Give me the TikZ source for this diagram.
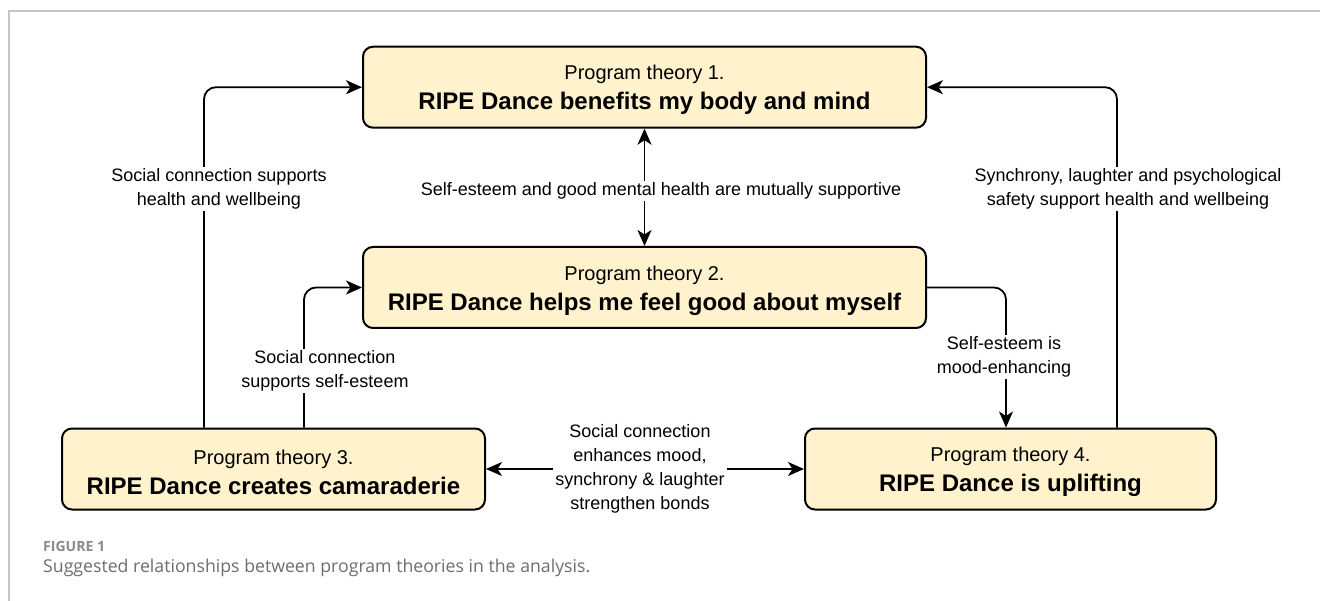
\documentclass[tikz,border=0pt]{standalone}
\usepackage{fontspec}
\setmainfont{Liberation Sans}
\newfontfamily\capfont{Open Sans}
\usetikzlibrary{arrows.meta}
\definecolor{boxfill}{HTML}{FFF2CC}
\definecolor{framegray}{HTML}{C4C4C4}
\definecolor{capgray}{HTML}{8A8A8A}
\definecolor{captext}{HTML}{6E6E6E}
\begin{document}
\begin{tikzpicture}[x=1pt,y=-1pt,
  box/.style={draw=black, line width=2pt, fill=boxfill, rounded corners=10pt,
    minimum height=81pt, inner sep=0pt},
  boxtext/.style={inner sep=0pt, align=center, yshift=-3pt,
    font=\fontsize{20}{30}\selectfont},
  lbl/.style={fill=white, inner sep=2pt, align=center,
    font=\fontsize{18}{24}\selectfont},
  link/.style={line width=1.8pt, rounded corners=12pt,
    -{Stealth[length=16pt,width=14pt,inset=4.5pt]}},
  dlink/.style={line width=1.8pt,
    {Stealth[length=16pt,width=14pt,inset=4.5pt]}-{Stealth[length=16pt,width=14pt,inset=4.5pt]}}]
\useasboundingbox (0,0) rectangle (1320,601);
\fill[white] (0,0) rectangle (1320,601);
% panel frame
\draw[framegray, line width=1.5pt] (9,601) -- (9,11) -- (1320,11);

% program theory boxes
\newcommand\boxtitle[1]{{\bfseries\fontsize{24}{30}\selectfont #1}}
\node[box, minimum width=563pt] (b1) at (644.5,87.2) {};
\node[box, minimum width=563pt] (b2) at (644.5,287.5) {};
\node[box, minimum width=423pt] (b3) at (273.5,469) {};
\node[box, minimum width=411pt] (b4) at (1010.5,469) {};
\node[boxtext] (t1) at (b1.center) {Program theory 1.\\\boxtitle{RIPE Dance benefits my body and mind}};
\node[boxtext] (t2) at (b2.center) {Program theory 2.\\\boxtitle{RIPE Dance helps me feel good about myself}};
\node[boxtext] (t3) at (b3.center) {Program theory 3.\\\boxtitle{RIPE Dance creates camaraderie}};
\node[boxtext] (t4) at (b4.center) {Program theory 4.\\\boxtitle{RIPE Dance is uplifting}};

% columns used by the elbow connectors
\coordinate (colA) at (204,0);
\coordinate (colB) at (304,0);
\coordinate (colC) at (1006,0);
\coordinate (colD) at (1117,0);

% connectors
\draw[link] (b3.north -| colA) |- (b1.west);
\draw[link] (b3.north -| colB) |- (b2.west);
\draw[link] (b4.north -| colD) |- (b1.east);
\draw[link] (b2.east) -| (b4.north -| colC);
\draw[dlink] (b1.south) -- (b2.north);
\draw[dlink] (b3.east) -- (b4.west);

% connector labels
\node[lbl] (l1) at (219,189) {Social connection supports\\health and wellbeing};
\node[lbl] (l2) at (325,371) {Social connection\\supports self-esteem};
\node[lbl] (l3) at (661,191) {Self-esteem and good mental health are mutually supportive};
\node[lbl] (l4) at (1128,189) {Synchrony, laughter and psychological\\safety support health and wellbeing};
\node[lbl] (l5) at (1004,357) {Self-esteem is\\mood-enhancing};
\node[lbl] (l6) at (640,469) {Social connection\\enhances mood,\\synchrony \& laughter\\strengthen bonds};

% caption
\node[anchor=west, inner sep=0pt, text=capgray, font=\capfont\bfseries] (fig) at (43,546) {\resizebox{62pt}{!}{FIGURE 1}};
\node[anchor=west, inner sep=0pt, text=captext, font=\capfont\fontsize{17.7}{20}\selectfont] (cap) at (43,568) {Suggested relationships between program theories in the analysis.};
\end{tikzpicture}
\end{document}
